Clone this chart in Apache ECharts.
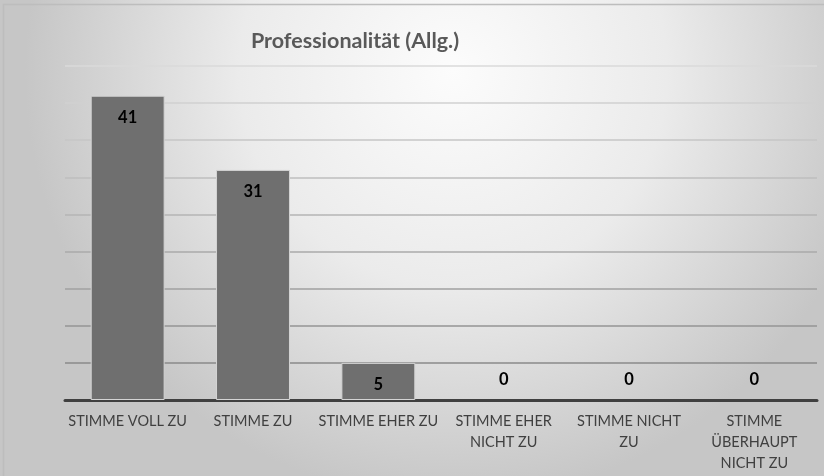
<!DOCTYPE html>
<html>
<head>
<meta charset="utf-8">
<script src="https://cdn.jsdelivr.net/npm/echarts@6/dist/echarts.min.js"></script>
<style>
html,body{margin:0;padding:0;background:#fff;overflow:hidden;}
#c{width:824px;height:476px;}
</style>
</head>
<body>
<div id="c"></div>
<script>
const titleText = 'Professionalität (Allg.)';
const categories = ['STIMME VOLL ZU', 'STIMME ZU', 'STIMME EHER ZU', 'STIMME EHER\nNICHT ZU', 'STIMME NICHT\nZU', 'STIMME\nÜBERHAUPT\nNICHT ZU'];
const values = [41, 31, 5, 0, 0, 0];
const yMin = 0, yMax = 45, yInterval = 5;

const font = 'Lato, "Open Sans", sans-serif';
const chart = echarts.init(document.getElementById('c'));
chart.setOption({
  backgroundColor: {
    type: 'radial', x: 0.55, y: 0.15, r: 0.9,
    colorStops: [
      {offset: 0, color: '#fcfcfc'},
      {offset: 0.5, color: '#ebebeb'},
      {offset: 1, color: '#c6c6c6'}
    ]
  },
  animation: false,
  title: {
    text: titleText, left: 350, top: 25, textAlign: 'center',
    textStyle: {fontFamily: font, fontSize: 21.5, fontWeight: 'bold', color: '#595959'}
  },
  graphic: [{
    type: 'polyline', silent: true,
    shape: {points: [[3.5, 476], [3.5, 4.5], [824, 4.5]]},
    style: {stroke: '#bdbdbd', lineWidth: 1.5, fill: null}
  }],
  grid: {left: 65, right: 7, top: 66, bottom: 76},
  xAxis: {
    type: 'category', data: categories,
    axisLine: {lineStyle: {color: '#404040', width: 3}},
    axisTick: {show: false},
    axisLabel: {
      interval: 0, margin: 11, fontFamily: font, fontSize: 14.5, color: '#404040',
      lineHeight: 21, verticalAlign: 'top'
    }
  },
  yAxis: {
    type: 'value', min: yMin, max: yMax, interval: yInterval,
    axisLine: {show: false}, axisTick: {show: false}, axisLabel: {show: false},
    splitLine: {lineStyle: {width: 1.5, color: ['#8a8a8a', '#8a8a8a', '#959595', '#a0a0a0', '#aaaaaa', '#b4b4b4', '#bebebe', '#c6c6c6', '#d0d0d0', '#dadada']}}
  },
  series: [{
    type: 'bar', barWidth: '59%',
    data: values.map(v => ({
      value: v,
      itemStyle: {borderWidth: v > 0 ? 1 : 0},
      label: v > 0 ? {position: 'insideTop', distance: 13} : {position: 'top', distance: 12}
    })),
    itemStyle: {color: '#6f6f6f', borderColor: '#d4d4d4'},
    label: {show: true, fontFamily: font, fontSize: 16.5, fontWeight: 'bold', color: '#000'}
  }]
});
</script>
</body>
</html>
